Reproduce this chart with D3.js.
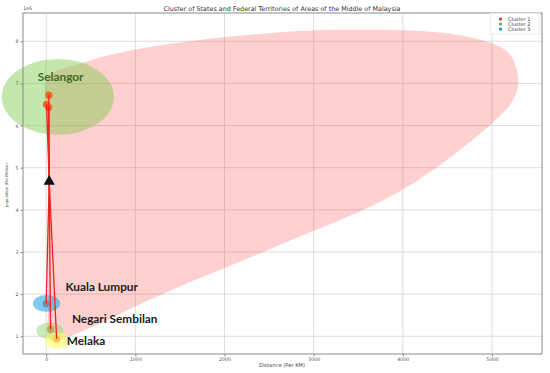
<!DOCTYPE html>
<html>
<head>
<meta charset="utf-8">
<script src="https://cdn.jsdelivr.net/npm/d3@7"></script>
<style>
  body { margin: 0; background: #fff; }
  svg { display: block; font-family: "DejaVu Sans", sans-serif; }
</style>
</head>
<body>
<div id="chart"></div>
<script>
'use strict';

// points (distance in km, population)
let pointDist = [30, 4, 27, 0, 49, 117];
let pointPop = [6720000, 6500000, 6430000, 1770000, 1170000, 940000];

// centroid of cluster 1
let centroidDist = [34];
let centroidPop = [4670000];

// region ellipses
let regionNames = ['Selangor', 'Kuala Lumpur', 'Negari Sembilan', 'Melaka'];
let regionCx = [131, 4, 42, 131];
let regionCy = [6680000, 1780000, 1130000, 900000];
let regionRx = [629, 152, 152, 146];
let regionRy = [900000, 200000, 200000, 190000];

// outline of the big cluster 1 area
let hullDist = [19, 412, 974, 1725, 2567, 3319, 4442, 4958, 5149, 5239, 5295, 5239, 5003, 3993, 2567, 1300, 244, 60, 19, 19, 19];
let hullPop = [7130000, 7490000, 7790000, 8030000, 8200000, 8270000, 8200000, 7980000, 7790000, 7560000, 7030000, 6610000, 6060000, 4470000, 3120000, 2000000, 980000, 880000, 2000000, 4200000, 6000000];

let legendLabels = ['Cluster 1', 'Cluster 2', 'Cluster 3'];
let xTicks = [0, 1000, 2000, 3000, 4000, 5000];
let yTicks = [1, 2, 3, 4, 5, 6, 7, 8];

let width = 550, height = 373;
let margin = {left: 23, right: 8, top: 13, bottom: 19};

var svg = d3.select('#chart').append('svg')
    .attr('width', width)
    .attr('height', height);

var x = d3.scaleLinear().domain([-260, 5561]).range([margin.left, width - margin.right]);
var y = d3.scaleLinear().domain([580000, 8670000]).range([height - margin.bottom, margin.top]);

// grid
svg.append('g').selectAll('line.gx')
    .data(xTicks).enter().append('line')
    .attr('x1', function(d) { return x(d); }).attr('x2', function(d) { return x(d); })
    .attr('y1', y.range()[0]).attr('y2', y.range()[1])
    .attr('stroke', '#d4d4d4').attr('stroke-width', 0.8);
svg.append('g').selectAll('line.gy')
    .data(yTicks).enter().append('line')
    .attr('y1', function(d) { return y(d * 1e6); }).attr('y2', function(d) { return y(d * 1e6); })
    .attr('x1', x.range()[0]).attr('x2', x.range()[1])
    .attr('stroke', '#d4d4d4').attr('stroke-width', 0.8);

var plot = svg.append('g');

var ell = function(i) {
    return {cx: x(regionCx[i]), cy: y(regionCy[i]),
            rx: x(regionRx[i]) - x(0), ry: y(0) - y(regionRy[i])};
};

var hullPts = hullDist.map(function(d, i) { return [x(d), y(hullPop[i])]; });
plot.append('path')
    .attr('d', d3.line().curve(d3.curveCatmullRomClosed.alpha(0.5))(hullPts))
    .attr('fill', '#ff2a2a').attr('fill-opacity', 0.22);

// selangor ellipse (under the points)
var e0 = ell(0);
plot.append('ellipse')
    .attr('cx', e0.cx).attr('cy', e0.cy).attr('rx', e0.rx).attr('ry', e0.ry)
    .attr('fill', '#7cc94a').attr('fill-opacity', 0.45);

// points
plot.selectAll('circle.pt')
    .data(pointDist).enter().append('circle')
    .attr('cx', function(d) { return x(d); })
    .attr('cy', function(d, i) { return y(pointPop[i]); })
    .attr('r', 3.6)
    .attr('fill', '#ea6a1e');

// small region ellipses on top of points
var smallColours = ['#2aa8e8', '#9fd985', '#ffff60'];
var smallOpacity = [0.6, 0.55, 0.6];
[1, 2, 3].forEach(function(i, k) {
    var e = ell(i);
    plot.append('ellipse')
        .attr('cx', e.cx).attr('cy', e.cy).attr('rx', e.rx).attr('ry', e.ry)
        .attr('fill', smallColours[k]).attr('fill-opacity', smallOpacity[k]);
});

// lines from centroid to each point
plot.selectAll('line.lk')
    .data(pointDist).enter().append('line')
    .attr('x1', x(centroidDist[0])).attr('y1', y(centroidPop[0]))
    .attr('x2', function(d) { return x(d); })
    .attr('y2', function(d, i) { return y(pointPop[i]); })
    .attr('stroke', '#ee2020').attr('stroke-width', 1.3);

// centroid marker
plot.selectAll('path.cen')
    .data(centroidDist).enter().append('path')
    .attr('transform', function(d, i) { return 'translate(' + x(d) + ',' + y(centroidPop[i]) + ')'; })
    .attr('d', d3.symbol().type(d3.symbolTriangle).size(55))
    .attr('fill', '#111');

// region labels (pixel offsets from the region centre)
var labelStyle = {
    'Selangor': {dx: -20, dy: -16, colour: '#3b6a22'},
    'Kuala Lumpur': {dx: 19, dy: -12, colour: '#1c1c1c'},
    'Negari Sembilan': {dx: 22, dy: -8, colour: '#1c1c1c'},
    'Melaka': {dx: 9, dy: 4, colour: '#1c1c1c'}
};
regionNames.forEach(function(n, i) {
    var s = labelStyle[n];
    plot.append('text')
        .attr('x', x(regionCx[i]) + s.dx)
        .attr('y', y(regionCy[i]) + s.dy)
        .attr('font-family', 'Lato, "Open Sans", sans-serif')
        .attr('font-weight', 'bold')
        .attr('font-size', 11.8)
        .attr('fill', s.colour)
        .text(n);
});

// frame
svg.append('rect')
    .attr('x', x.range()[0]).attr('y', y.range()[1])
    .attr('width', x.range()[1] - x.range()[0])
    .attr('height', y.range()[0] - y.range()[1])
    .attr('fill', 'none').attr('stroke', '#8a8a8a').attr('stroke-width', 1);

// axes
var xAxis = svg.append('g')
    .attr('transform', 'translate(0,' + y.range()[0] + ')')
    .call(d3.axisBottom(x).tickValues(xTicks).tickFormat(d3.format('d'))
        .tickSize(2.5).tickPadding(1.5));
var yAxis = svg.append('g')
    .attr('transform', 'translate(' + x.range()[0] + ',0)')
    .call(d3.axisLeft(y).tickValues(yTicks.map(function(d) { return d * 1e6; }))
        .tickFormat(function(d) { return d / 1e6; }).tickSize(2.5).tickPadding(2));
[xAxis, yAxis].forEach(function(a) {
    a.select('.domain').remove();
    a.selectAll('line').attr('stroke', '#888');
    a.selectAll('text').attr('font-size', 4.8).attr('fill', '#555')
        .attr('font-family', '"DejaVu Sans", sans-serif');
});

svg.append('text')
    .attr('x', x.range()[0]).attr('y', 10)
    .attr('font-size', 4.8).attr('fill', '#555')
    .text('1e6');

// titles
svg.append('text')
    .attr('x', 282).attr('y', 10.5)
    .attr('text-anchor', 'middle')
    .attr('font-size', 6.4).attr('fill', '#333')
    .text('Cluster of States and Federal Territories of Areas of the Middle of Malaysia');
svg.append('text')
    .attr('x', 282).attr('y', 367)
    .attr('text-anchor', 'middle')
    .attr('font-size', 5.2).attr('fill', '#444')
    .text('Distance (Per KM)');
svg.append('text')
    .attr('transform', 'translate(8,185) rotate(-90)')
    .attr('text-anchor', 'middle')
    .attr('font-size', 3.8).attr('fill', '#555')
    .text('population (Per Million)');

// legend
var legendColours = ['#e82424', '#3cc83c', '#1f8fe0'];
var lg = svg.append('g').attr('transform', 'translate(490,13)');
lg.append('rect')
    .attr('width', 50).attr('height', 21)
    .attr('fill', '#fff').attr('fill-opacity', 0.8)
    .attr('stroke', '#ddd').attr('stroke-width', 0.6);
legendLabels.forEach(function(l, i) {
    lg.append('circle').attr('cx', 10.5).attr('cy', 6 + i * 5).attr('r', 1.6)
        .attr('fill', legendColours[i]);
    lg.append('text').attr('x', 18).attr('y', 7.8 + i * 5)
        .attr('font-size', 5).attr('fill', '#444')
        .text(l);
});
</script>
</body>
</html>
